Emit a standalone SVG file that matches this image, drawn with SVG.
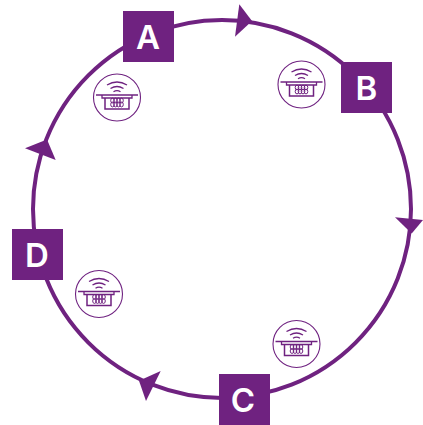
<svg xmlns="http://www.w3.org/2000/svg" width="423" height="425" viewBox="0 0 423 425">
<style>
.n{fill:#6f2280}
.t{fill:#fff;font-family:Inter,"Liberation Sans",sans-serif;font-weight:600;font-size:33px;text-anchor:middle}
.l{fill:none;stroke:#6f2280}
.a{fill:#6f2280}
</style>
<defs>
<symbol id="ic" overflow="visible">
<circle class="l" r="23.500" stroke-width="1.100"/>
<g class="l" stroke-width="1.300">
<path d="M-10-12.500Q0-18.500 10-12.500"/>
<path d="M-6.500-9Q0-13 6.500-9"/>
<path d="M-3.500-5.800Q0-8 3.500-5.800"/>
<path d="M-21-2.500H21"/>
<path d="M-15-2.500V0.500H15V-2.500"/>
<path d="M-12 0.500V11.500H12V0.500" stroke-width="1.500"/>
<g stroke-width="1">
<ellipse cx="-4.500" cy="3" rx="1.800" ry="2.400"/><ellipse cx="-1.500" cy="3" rx="1.800" ry="2.400"/><ellipse cx="1.500" cy="3" rx="1.800" ry="2.400"/><ellipse cx="4.500" cy="3" rx="1.800" ry="2.400"/>
<ellipse cx="-4.500" cy="7" rx="1.800" ry="2.400"/><ellipse cx="-1.500" cy="7" rx="1.800" ry="2.400"/><ellipse cx="1.500" cy="7" rx="1.800" ry="2.400"/><ellipse cx="4.500" cy="7" rx="1.800" ry="2.400"/>
</g>
</g>
</symbol>
</defs>
<g id="connectors">
<circle class="l" cx="222" cy="209" r="189" stroke-width="4"/>
<path class="a" d="M239.300 4.300L252 21L235 36.700Z"/>
<path class="a" d="M395 217.300L423 220L411.700 233.500Z"/>
<path class="a" d="M25 148.300L47 139.500L55.700 160Z"/>
<path class="a" d="M160.700 371L139 380.700L146 401Z"/>
</g>
<g id="node-A"><rect class="n" x="123" y="11" width="51" height="51"/><text class="t" x="148" y="49">A</text></g>
<g id="node-B"><rect class="n" x="341" y="62" width="51" height="51"/><text class="t" x="366.500" y="100">B</text></g>
<g id="node-C"><rect class="n" x="219" y="374" width="51" height="51"/><text class="t" x="243" y="412">C</text></g>
<g id="node-D"><rect class="n" x="12" y="229" width="51" height="51"/><text class="t" x="37" y="267">D</text></g>
<g id="icon-A"><use href="#ic" transform="translate(117 97.500)"/></g>
<g id="icon-B"><use href="#ic" transform="translate(301.500 84.500)"/></g>
<g id="icon-C"><use href="#ic" transform="translate(296.500 344)"/></g>
<g id="icon-D"><use href="#ic" transform="translate(99 294)"/></g>
</svg>
